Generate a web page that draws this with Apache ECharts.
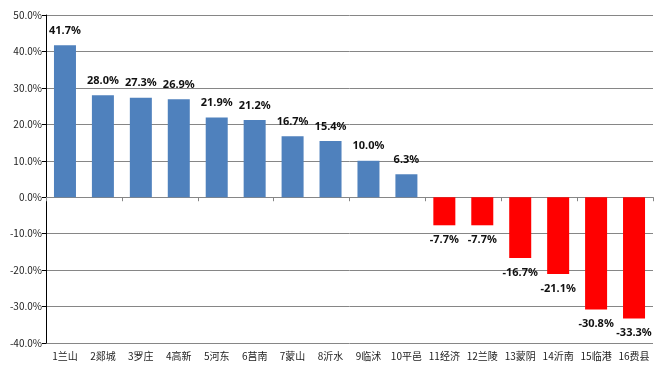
<!DOCTYPE html>
<html><head><meta charset="utf-8">
<script src="https://cdn.jsdelivr.net/npm/echarts@6/dist/echarts.min.js"></script>
<style>html,body{margin:0;padding:0;background:#fff}#c{width:669px;height:373px}</style>
</head><body><div id="c"></div>
<script>
const categories = ['1兰山','2郯城','3罗庄','4高新','5河东','6莒南','7蒙山','8沂水','9临沭','10平邑','11经济','12兰陵','13蒙阴','14沂南','15临港','16费县'];
const values = [41.7, 28.0, 27.3, 26.9, 21.9, 21.2, 16.7, 15.4, 10.0, 6.3, -7.7, -7.7, -16.7, -21.1, -30.8, -33.3];
const yTicks = [-40, -30, -20, -10, 0, 10, 20, 30, 40, 50];

const chart = echarts.init(document.getElementById('c'));
const font = '"Noto Sans CJK SC", "Noto Sans", sans-serif';
chart.setOption({
  animation: false,
  grid: {left: 46, right: 16, top: 15, bottom: 30},
  xAxis: [{
    type: 'category', data: categories, position: 'bottom',
    axisLine: {show: false, onZero: false}, axisTick: {show: false},
    axisLabel: {fontSize: 10, color: '#222', fontFamily: font, margin: 8, interval: 0}
  }, {
    type: 'category', data: categories, position: 'bottom',
    axisLine: {show: true, onZero: true, lineStyle: {color: '#868686', width: 1}},
    axisTick: {show: true, length: 4, lineStyle: {color: '#868686'}},
    axisLabel: {show: false}
  }],
  yAxis: {
    type: 'value', min: yTicks[0], max: yTicks[yTicks.length - 1], interval: 10,
    axisLine: {show: true, lineStyle: {color: '#000'}},
    axisTick: {show: true, length: 4, lineStyle: {color: '#000'}},
    axisLabel: {fontSize: 10, color: '#222', fontFamily: font, margin: 4,
      formatter: v => v.toFixed(1) + '%'},
    splitLine: {show: true, lineStyle: {color: '#868686', width: 1}}
  },
  series: [{
    type: 'bar', xAxisIndex: 0, barWidth: '58%',
    data: values.map(v => ({
      value: v,
      itemStyle: {color: v >= 0 ? '#4F81BD' : '#FF0000'},
      label: {position: v >= 0 ? 'top' : 'bottom'}
    })),
    label: {show: true, fontSize: 11, fontWeight: 'bold', color: '#111', fontFamily: '"Noto Sans", sans-serif',
      distance: 9, formatter: p => p.value.toFixed(1) + '%'}
  }]
});
</script></body></html>
